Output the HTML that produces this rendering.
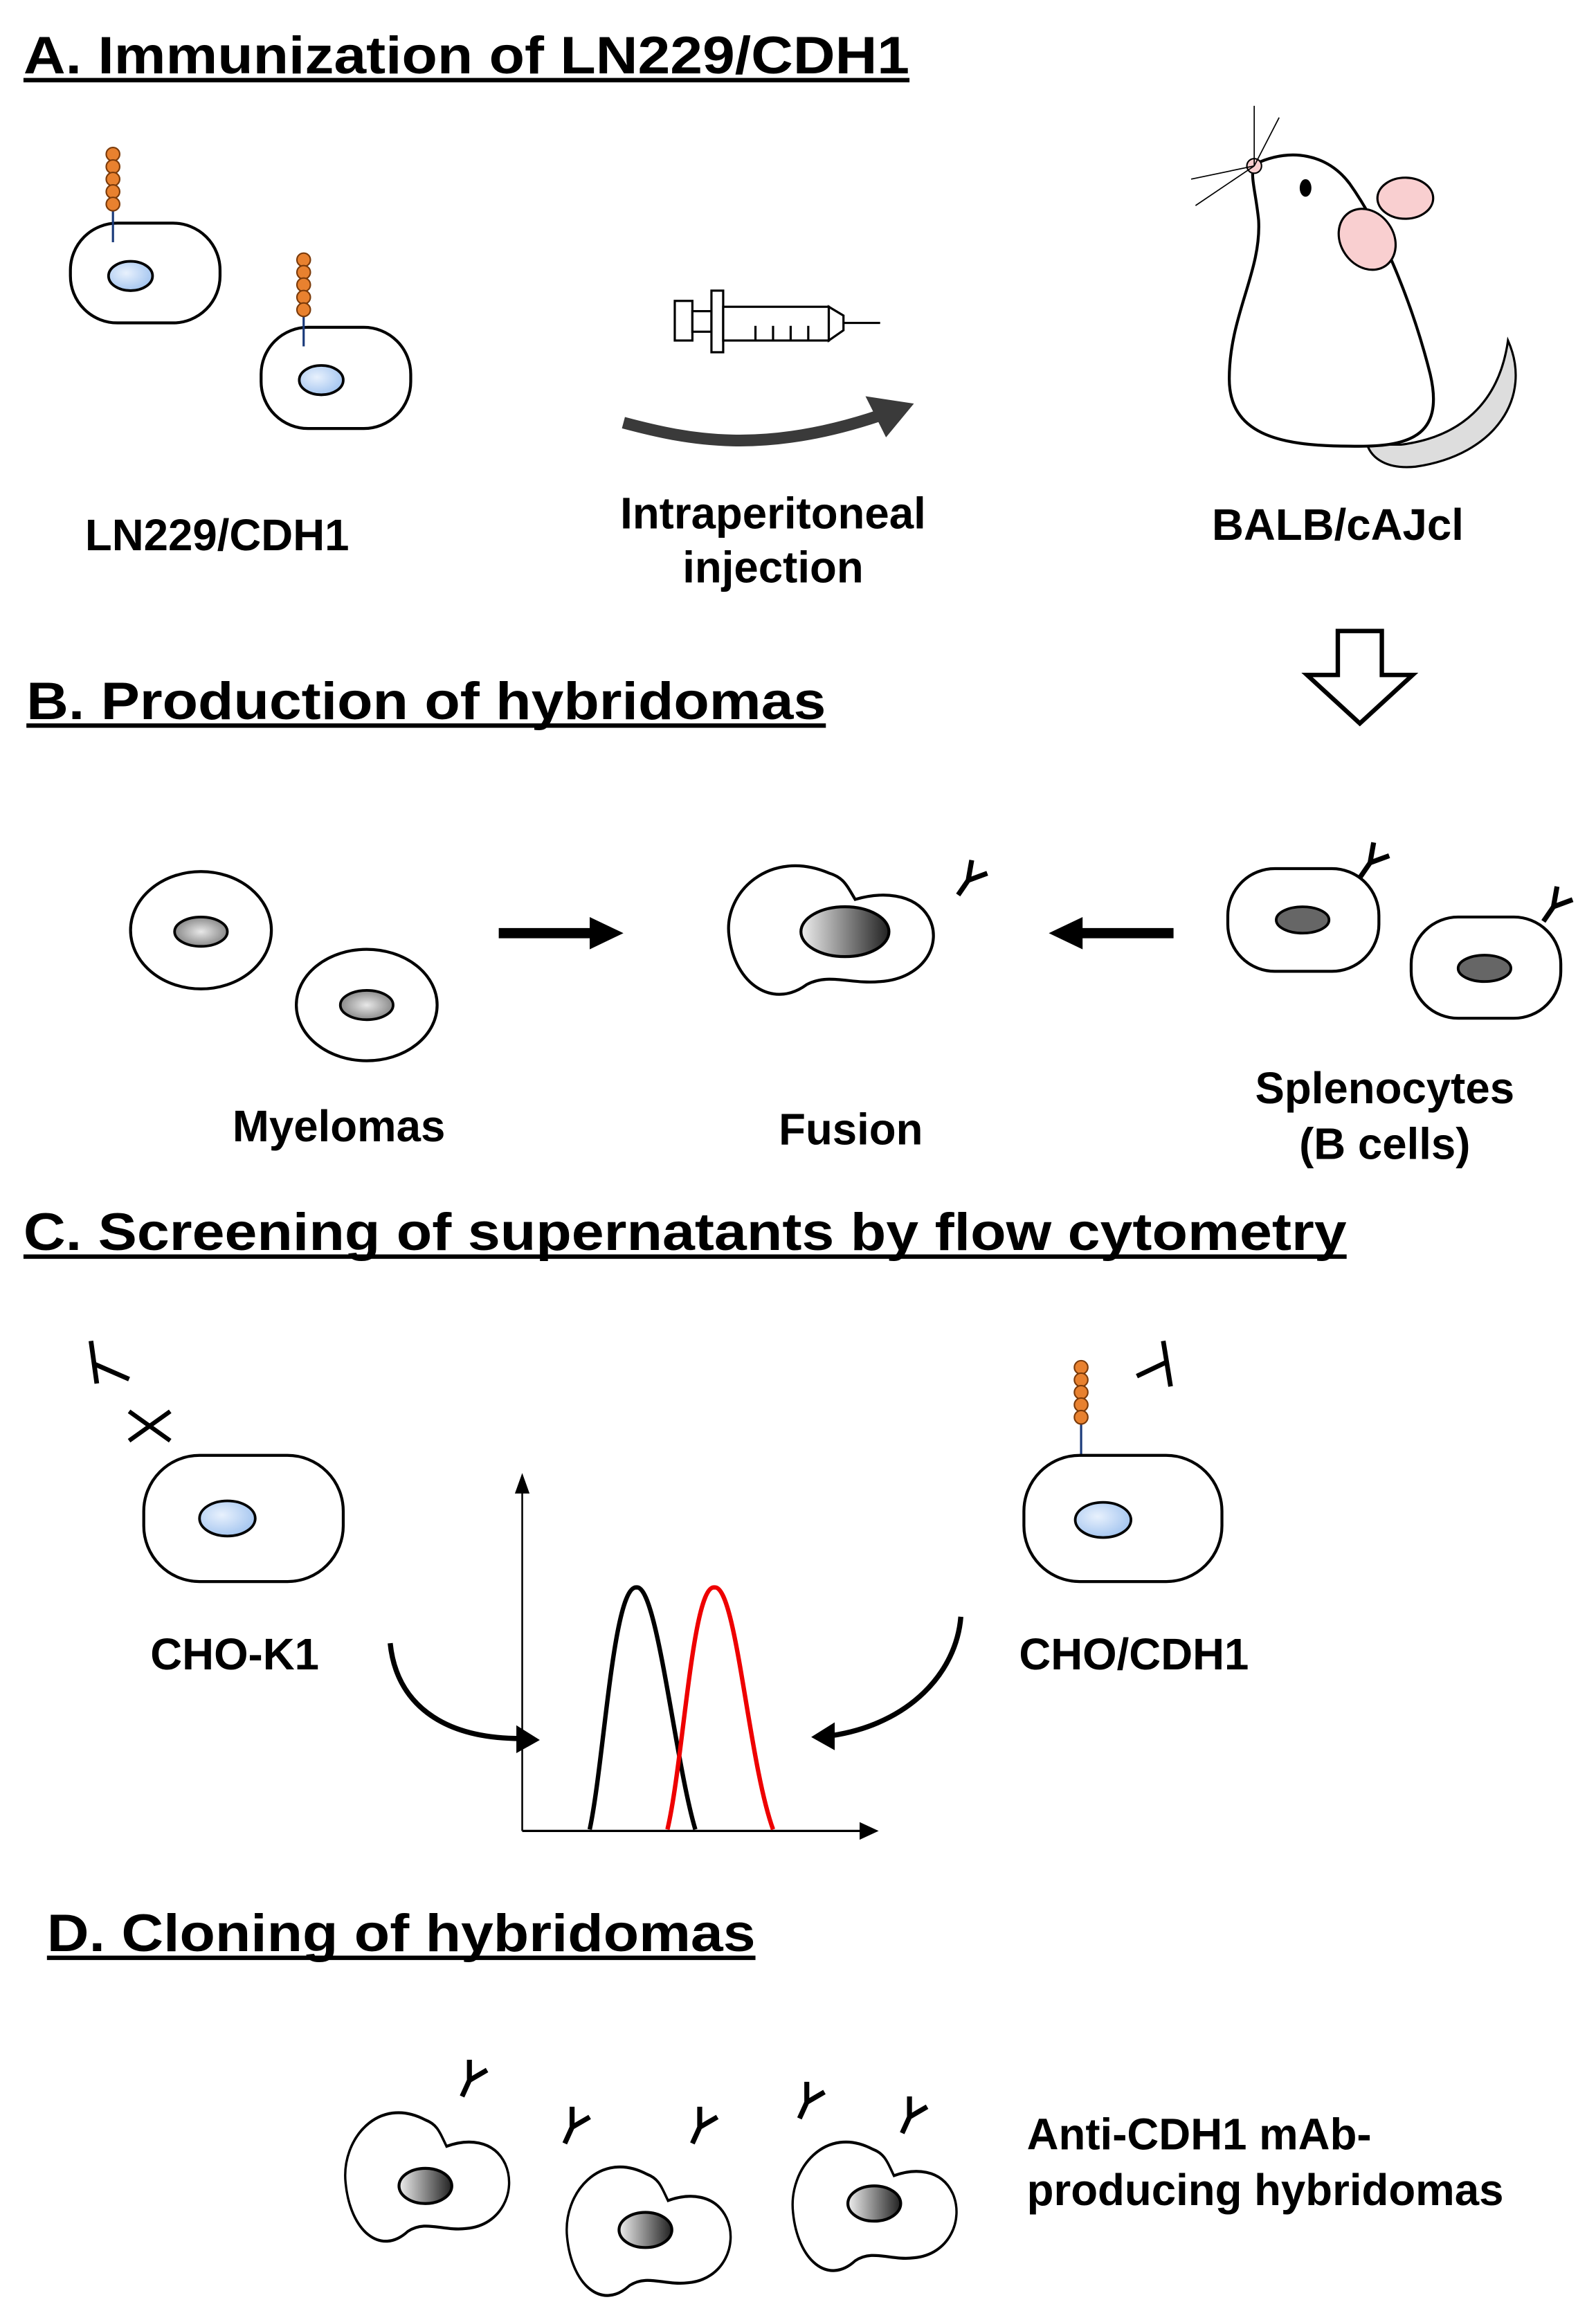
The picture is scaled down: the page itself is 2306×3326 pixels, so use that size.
<!DOCTYPE html>
<html><head><meta charset="utf-8"><style>
html,body{margin:0;padding:0;background:#fff;}
svg{display:block;}
text{font-family:"Liberation Sans",Arial,sans-serif;font-weight:bold;fill:#000;}
</style></head><body>
<svg width="2306" height="3326" viewBox="0 0 1088 1569" xmlns="http://www.w3.org/2000/svg">
<defs>
<radialGradient id="blue" cx="0.4" cy="0.4" r="0.7"><stop offset="0" stop-color="#e8f1fd"/><stop offset="1" stop-color="#9cc0ee"/></radialGradient>
<radialGradient id="gray" cx="0.5" cy="0.5" r="0.6"><stop offset="0" stop-color="#e8e8e8"/><stop offset="1" stop-color="#777"/></radialGradient>
<linearGradient id="dk" x1="0" x2="1"><stop offset="0" stop-color="#eee"/><stop offset="1" stop-color="#222"/></linearGradient>
<g id="ab"><path d="M0,-14 L0,0 L12,-7 M0,0 L-5,11" fill="none" stroke="#000" stroke-width="3.4"/></g>
<g id="beads" fill="#e8812f" stroke="#7a3a0a" stroke-width="1"><circle cx="0" cy="0" r="4.6"/><circle cx="0" cy="8.5" r="4.6"/><circle cx="0" cy="17" r="4.6"/><circle cx="0" cy="25.5" r="4.6"/><circle cx="0" cy="34" r="4.6"/></g>
<g id="fuse"><path d="M10,-38 C-30,-55 -62,-25 -58,5 C-54,38 -28,55 -5,38 C10,30 25,38 45,36 C75,34 88,10 78,-8 C68,-25 45,-25 28,-20 C22,-30 20,-35 10,-38 Z" fill="#fff" stroke="#000" stroke-width="2"/></g>
</defs>

<!-- A -->
<text x="16" y="50" font-size="36" textLength="604" lengthAdjust="spacingAndGlyphs">A. Immunization of LN229/CDH1</text>
<rect x="16" y="53" width="604" height="3" fill="#000"/>
<rect x="48" y="152" width="102" height="68" rx="32" fill="#fff" stroke="#000" stroke-width="2"/>
<ellipse cx="89" cy="188" rx="15" ry="10" fill="url(#blue)" stroke="#000" stroke-width="1.8"/>
<line x1="77" y1="140" x2="77" y2="165" stroke="#1a3a7a" stroke-width="1.5"/>
<use href="#beads" x="77" y="105"/>
<rect x="178" y="223" width="102" height="69" rx="32" fill="#fff" stroke="#000" stroke-width="2"/>
<ellipse cx="219" cy="259" rx="15" ry="10" fill="url(#blue)" stroke="#000" stroke-width="1.8"/>
<line x1="207" y1="212" x2="207" y2="236" stroke="#1a3a7a" stroke-width="1.5"/>
<use href="#beads" x="207" y="177"/>
<text x="148" y="375" font-size="30" text-anchor="middle">LN229/CDH1</text>
<!-- syringe -->
<g fill="#fff" stroke="#000" stroke-width="1.5">
<rect x="460" y="205" width="12" height="27"/>
<rect x="472" y="212" width="13" height="14"/>
<rect x="485" y="198" width="8" height="42"/>
<rect x="493" y="209" width="72" height="23"/>
<path d="M565,209 L575,215 L575,225 L565,232 Z"/>
<line x1="575" y1="220" x2="600" y2="220"/>
<line x1="515" y1="222" x2="515" y2="232"/><line x1="527" y1="222" x2="527" y2="232"/><line x1="539" y1="222" x2="539" y2="232"/><line x1="551" y1="222" x2="551" y2="232"/>
</g>
<path d="M425,288 C470,300 520,310 600,283" fill="none" stroke="#3a3a3a" stroke-width="8"/>
<path d="M590,270 L623,275 L604,298 Z" fill="#3a3a3a"/>
<text x="527" y="360" font-size="30" text-anchor="middle">Intraperitoneal</text>
<text x="527" y="397" font-size="30" text-anchor="middle">injection</text>
<!-- mouse -->
<path d="M1028,232 C1045,270 1020,310 965,318 C945,320 935,312 932,303 L955,303 C995,298 1022,275 1028,232 Z" fill="#ddd" stroke="#000" stroke-width="1.5"/>
<path d="M855,112 C880,100 905,105 920,125 C945,160 965,215 975,255 C985,298 960,305 920,304 C870,304 838,295 838,258 C838,215 860,185 858,150 C856,130 852,120 855,112 Z" fill="#fff" stroke="#000" stroke-width="2"/>
<ellipse cx="958" cy="135" rx="19" ry="14" fill="#f9cfd0" stroke="#000" stroke-width="1.5"/>
<ellipse cx="932" cy="163" rx="18" ry="22" transform="rotate(-35 932 163)" fill="#f9cfd0" stroke="#000" stroke-width="1.5"/>
<ellipse cx="890" cy="128" rx="4" ry="6" fill="#000"/>
<circle cx="855" cy="113" r="5" fill="#f9cfd0" stroke="#000" stroke-width="1"/>
<g stroke="#000" stroke-width="0.8"><line x1="855" y1="113" x2="855" y2="72"/><line x1="855" y1="113" x2="872" y2="80"/><line x1="855" y1="113" x2="812" y2="122"/><line x1="855" y1="113" x2="815" y2="140"/></g>
<text x="912" y="368" font-size="30" text-anchor="middle">BALB/cAJcl</text>
<path d="M912,430 L942,430 L942,460 L963,460 L927,493 L891,460 L912,460 Z" fill="#fff" stroke="#000" stroke-width="3"/>

<!-- B -->
<text x="18" y="490" font-size="36" textLength="545" lengthAdjust="spacingAndGlyphs">B. Production of hybridomas</text>
<rect x="18" y="493" width="545" height="3" fill="#000"/>
<ellipse cx="137" cy="634" rx="48" ry="40" fill="#fff" stroke="#000" stroke-width="2"/>
<ellipse cx="137" cy="635" rx="18" ry="10" fill="url(#gray)" stroke="#000" stroke-width="1.8"/>
<ellipse cx="250" cy="685" rx="48" ry="38" fill="#fff" stroke="#000" stroke-width="2"/>
<ellipse cx="250" cy="685" rx="18" ry="10" fill="url(#gray)" stroke="#000" stroke-width="1.8"/>
<line x1="340" y1="636" x2="405" y2="636" stroke="#000" stroke-width="7"/><path d="M402,625 L425,636 L402,647 Z"/>
<use href="#fuse" x="555" y="633"/>
<ellipse cx="576" cy="635" rx="30" ry="17" fill="url(#dk)" stroke="#000" stroke-width="2"/>
<use href="#ab" transform="translate(660,600) rotate(10)"/>
<line x1="800" y1="636" x2="735" y2="636" stroke="#000" stroke-width="7"/><path d="M738,625 L715,636 L738,647 Z"/>
<rect x="837" y="592" width="103" height="70" rx="32" fill="#fff" stroke="#000" stroke-width="2"/>
<ellipse cx="888" cy="627" rx="18" ry="9" fill="#666" stroke="#000" stroke-width="1.8"/>
<rect x="962" y="625" width="102" height="69" rx="32" fill="#fff" stroke="#000" stroke-width="2"/>
<ellipse cx="1012" cy="660" rx="18" ry="9" fill="#666" stroke="#000" stroke-width="1.8"/>
<use href="#ab" transform="translate(934,588) rotate(10)"/>
<use href="#ab" transform="translate(1059,618) rotate(10)"/>
<text x="944" y="752" font-size="30" text-anchor="middle">Splenocytes</text>
<text x="944" y="790" font-size="30" text-anchor="middle">(B cells)</text>
<text x="231" y="778" font-size="30" text-anchor="middle">Myelomas</text>
<text x="580" y="780" font-size="30" text-anchor="middle">Fusion</text>

<!-- C -->
<text x="16" y="852" font-size="36" textLength="902" lengthAdjust="spacingAndGlyphs">C. Screening of supernatants by flow cytometry</text>
<rect x="16" y="855" width="902" height="3" fill="#000"/>
<path d="M62,914 L66,943 M65,930 L88,940" fill="none" stroke="#000" stroke-width="3.2"/>
<path d="M88,962 L116,982 M116,962 L88,982" stroke="#000" stroke-width="3"/>
<rect x="98" y="992" width="136" height="86" rx="38" fill="#fff" stroke="#000" stroke-width="2"/>
<ellipse cx="155" cy="1035" rx="19" ry="12" fill="url(#blue)" stroke="#000" stroke-width="1.8"/>
<text x="160" y="1138" font-size="30" text-anchor="middle">CHO-K1</text>
<line x1="737" y1="968" x2="737" y2="1005" stroke="#1a3a7a" stroke-width="1.5"/>
<use href="#beads" x="737" y="932"/>
<path d="M793,914 L798,945 M796,928 L775,938" fill="none" stroke="#000" stroke-width="3.2"/>
<rect x="698" y="992" width="135" height="86" rx="38" fill="#fff" stroke="#000" stroke-width="2"/>
<ellipse cx="752" cy="1036" rx="19" ry="12" fill="url(#blue)" stroke="#000" stroke-width="1.8"/>
<text x="773" y="1138" font-size="30" text-anchor="middle">CHO/CDH1</text>
<line x1="356" y1="1248" x2="356" y2="1015" stroke="#000" stroke-width="1.2"/><path d="M351,1018 L356,1004 L361,1018 Z"/>
<line x1="356" y1="1248" x2="588" y2="1248" stroke="#000" stroke-width="1.5"/><path d="M586,1242 L599,1248 L586,1254 Z"/>
<path d="M402,1247 C412,1200 418,1080 434,1082 C448,1080 460,1200 474,1247" fill="none" stroke="#000" stroke-width="3"/>
<path d="M455,1247 C466,1200 472,1080 487,1082 C502,1080 510,1200 527,1247" fill="none" stroke="#e00" stroke-width="3"/>
<path d="M266,1120 C270,1160 300,1185 355,1185" fill="none" stroke="#000" stroke-width="3.5"/><path d="M352,1176 L368,1186 L352,1195 Z"/>
<path d="M655,1102 C652,1140 620,1175 567,1183" fill="none" stroke="#000" stroke-width="3.5"/><path d="M569,1174 L553,1184 L569,1193 Z"/>

<!-- D -->
<text x="32" y="1330" font-size="36" textLength="483" lengthAdjust="spacingAndGlyphs">D. Cloning of hybridomas</text>
<rect x="32" y="1333" width="483" height="3" fill="#000"/>
<use href="#fuse" transform="translate(282,1483) scale(0.8,1.0)"/>
<ellipse cx="290" cy="1490" rx="18" ry="12" fill="url(#dk)" stroke="#000" stroke-width="2"/>
<use href="#fuse" transform="translate(433,1520) scale(0.8,1.0)"/>
<ellipse cx="440" cy="1520" rx="18" ry="12" fill="url(#dk)" stroke="#000" stroke-width="2"/>
<use href="#fuse" transform="translate(587,1503) scale(0.8,1.0)"/>
<ellipse cx="596" cy="1502" rx="18" ry="12" fill="url(#dk)" stroke="#000" stroke-width="2"/>
<use href="#ab" transform="translate(320,1418)"/>
<use href="#ab" transform="translate(390,1450)"/>
<use href="#ab" transform="translate(477,1450)"/>
<use href="#ab" transform="translate(550,1433)"/>
<use href="#ab" transform="translate(620,1443)"/>
<text x="700" y="1465" font-size="30">Anti-CDH1 mAb-</text>
<text x="700" y="1503" font-size="30">producing hybridomas</text>
</svg>
</body></html>
